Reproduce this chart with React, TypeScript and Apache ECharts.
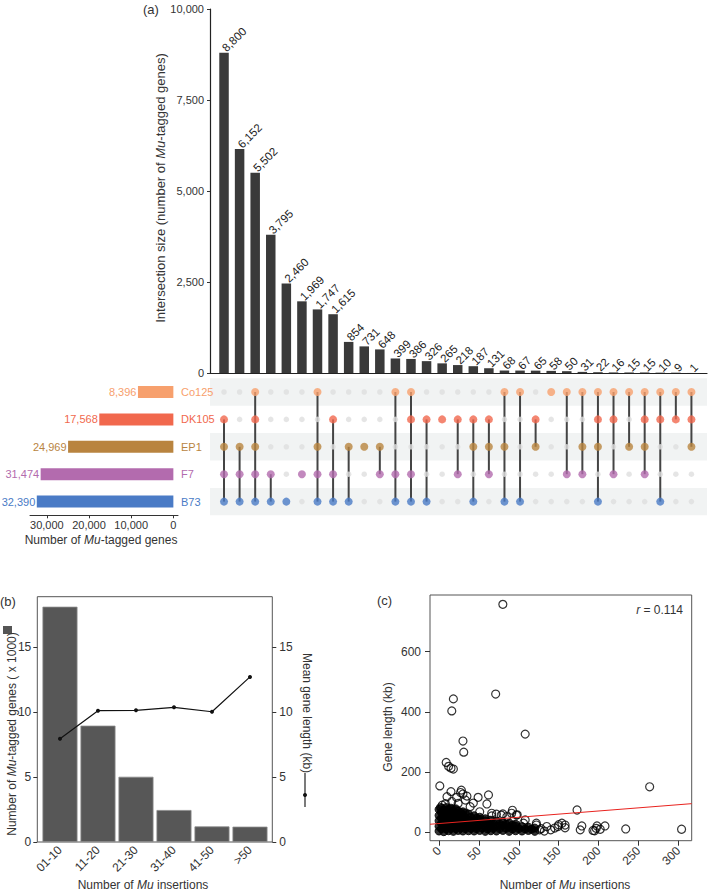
import React, { useEffect, useRef } from 'react';
import * as echarts from 'echarts';

const FONT = '"Liberation Sans", Arial, Helvetica, sans-serif';

// ---------- Panel (a): UpSet plot ----------
const setNames = ['Co125', 'DK105', 'EP1', 'F7', 'B73'];
const setSizes = [8396, 17568, 24969, 31474, 32390];
const setColors = ['#F7A06D', '#F1684D', '#B9843F', '#B36BAE', '#4A7BC6'];
const setSizeTicks = [0, 10000, 20000, 30000];

const intersectionSizes = [8800, 6152, 5502, 3795, 2460, 1969, 1747, 1615, 854, 731, 648, 399, 386, 326, 265, 218, 187, 131, 68, 67, 65, 58, 50, 31, 22, 16, 15, 15, 10, 9, 1];
const intersectionSets = [
  ['DK105', 'EP1', 'F7', 'B73'],
  ['EP1', 'F7', 'B73'],
  ['Co125', 'DK105', 'EP1', 'F7', 'B73'],
  ['F7', 'B73'],
  ['B73'],
  ['F7'],
  ['Co125', 'EP1', 'F7', 'B73'],
  ['DK105', 'F7', 'B73'],
  ['EP1', 'B73'],
  ['EP1'],
  ['EP1', 'F7'],
  ['Co125', 'F7', 'B73'],
  ['Co125', 'DK105', 'F7', 'B73'],
  ['DK105', 'B73'],
  ['DK105'],
  ['DK105', 'F7'],
  ['DK105', 'EP1', 'B73'],
  ['DK105', 'EP1', 'F7'],
  ['Co125', 'EP1', 'B73'],
  ['Co125', 'B73'],
  ['DK105', 'EP1'],
  ['Co125'],
  ['Co125', 'F7'],
  ['Co125', 'EP1', 'F7'],
  ['Co125', 'DK105', 'EP1', 'B73'],
  ['Co125', 'DK105', 'F7'],
  ['Co125', 'EP1'],
  ['Co125', 'DK105', 'EP1', 'F7'],
  ['Co125', 'DK105', 'B73'],
  ['Co125', 'DK105'],
  ['Co125', 'DK105', 'EP1'],
];

// ---------- Panel (b) ----------
const insertionBins = ['01-10', '11-20', '21-30', '31-40', '41-50', '>50'];
const taggedGenesK = [18.1, 8.95, 5.02, 2.46, 1.2, 1.18];
const meanGeneLengthKb = [7.95, 10.1, 10.13, 10.36, 10.02, 12.7];
const bTicks = [0, 5, 10, 15];

// ---------- Panel (c) ----------
const cTicksX = [0, 50, 100, 150, 200, 250, 300];
const cTicksY = [0, 200, 400, 600];
const regressionLine = [[-11.3, 26.6], [316.7, 95]];
const outlierPoints = [
  [80, 757], [71, 459], [18, 443], [16, 403], [108, 326], [30, 303], [31, 266], [9, 232], [12, 219], [15, 213], [18, 210], [1, 154], [264, 151],
  [15, 135], [28, 140], [30, 127], [27, 132], [49, 116], [62, 124], [60, 94], [10, 118], [22, 116], [43, 97], [16, 102], [33, 107], [39, 85], [35, 120],
  [2, 82], [4, 90], [8, 95], [24, 96], [51, 68], [66, 63], [72, 60], [78, 57], [85, 52], [91, 63], [97, 57], [92, 73], [98, 58], [80, 61], [66, 54], [108, 41],
  [106, 30], [122, 30], [122, 24], [135, 19], [149, 19], [154, 30], [158, 24], [158, 15], [150, 25], [128, 12], [140, 8], [145, 14], [126, 8], [132, 4],
  [173, 74], [179, 21], [177, 8], [198, 21], [202, 10], [195, 5], [208, 21], [234, 11], [304, 10], [193, 6], [197, 13],
];
const densePoints = [
  [0, 4], [0, 20], [0, 38], [0, 56], [0, 76], [3, 12], [3, 29], [3, 47], [3, 66], [3, 80],
  [6, 2], [6, 18], [6, 36], [6, 55], [6, 74], [9, 11], [9, 28], [9, 46], [9, 64], [9, 82],
  [12, 5], [12, 22], [12, 40], [12, 58], [12, 76], [15, 13], [15, 30], [15, 48], [15, 66], [15, 80],
  [18, 3], [18, 20], [18, 38], [18, 56], [18, 72], [21, 12], [21, 29], [21, 47], [21, 64], [21, 78],
  [24, 6], [24, 24], [24, 42], [24, 60], [24, 71], [27, 14], [27, 31], [27, 50], [27, 66],
  [30, 4], [30, 21], [30, 39], [30, 57], [30, 68], [33, 12], [33, 30], [33, 48], [33, 63],
  [37, 5], [37, 22], [37, 40], [37, 60], [40, 13], [40, 31], [40, 50],
  [44, 4], [44, 20], [44, 38], [44, 55], [47, 12], [47, 29], [47, 47],
  [51, 6], [51, 24], [51, 42], [51, 50], [54, 14], [54, 32],
  [58, 3], [58, 20], [58, 38], [58, 45], [61, 11], [61, 29],
  [65, 5], [65, 22], [65, 40], [68, 13], [68, 31],
  [72, 4], [72, 20], [72, 37], [76, 12], [76, 28],
  [80, 6], [80, 22], [80, 34], [84, 13], [84, 27],
  [88, 3], [88, 18], [88, 31], [92, 11], [92, 24],
  [96, 5], [96, 20], [96, 27], [100, 12],
  [104, 4], [104, 19], [108, 11],
  [112, 6], [112, 17], [116, 10],
  [120, 3], [120, 14],
];

const fmt = (v: number) => Math.round(v).toLocaleString('en-US');
const richItalicG = (size: number) => ({ i: { fontStyle: 'italic', fontSize: size, fontFamily: FONT, fill: '#333' } });

function txt(text: string, x: number, y: number, o: any = {}) {
  const align = o.align || 'center';
  const size = o.size || 12;
  return {
    type: 'text', x, y, rotation: o.rotation || 0, silent: true, z: 10,
    style: {
      text, fill: o.fill || '#333', fontSize: size, fontFamily: FONT,
      align, textAlign: align, verticalAlign: 'middle', textVerticalAlign: 'middle',
      rich: richItalicG(size),
    },
  };
}

export default function App() {
  const ref = useRef<HTMLDivElement>(null);
  useEffect(() => {
    if (!ref.current) return;
    const chart = echarts.init(ref.current, undefined, { renderer: 'svg' });

    const dots: any[] = [];
    intersectionSets.forEach((sets, i) => {
      setNames.forEach((name, r) => {
        const on = sets.includes(name);
        dots.push({ value: [i, r], symbolSize: on ? 8 : 5.5, itemStyle: { color: on ? setColors[r] : '#DEDEDE' } });
      });
    });
    const links = intersectionSets
      .map((sets, i) => {
        const rows = sets.map((s) => setNames.indexOf(s));
        return [i, Math.min(...rows), Math.max(...rows), rows.length];
      })
      .filter((d) => d[3] > 1)
      .map((d) => [d[0], d[1], d[2]]);

    const axisText = { color: '#333', fontSize: 12, fontFamily: FONT };
    const axisTextA = { color: '#333', fontSize: 11, fontFamily: FONT };

    const option: any = {
      animation: false,
      backgroundColor: '#fff',
      textStyle: { fontFamily: FONT },
      grid: [
        { left: 210, right: 2, top: 9, bottom: 518 },
        { left: 210, right: 2, top: 378.3, height: 137 },
        { left: 30, right: 531, top: 378.3, height: 137 },
        { left: 37.3, right: 436.7, top: 596.7, bottom: 49, show: true, borderColor: '#555', borderWidth: 1, backgroundColor: 'transparent' },
        { left: 430, right: 17.3, top: 595, bottom: 50.3, show: true, borderColor: '#555', borderWidth: 1, backgroundColor: 'transparent' },
      ],
      xAxis: [
        { gridIndex: 0, type: 'value', min: -0.9, max: 31, axisLine: { show: true, onZero: false, lineStyle: { color: '#222', width: 1.2 } }, axisTick: { show: false }, axisLabel: { show: false }, splitLine: { show: false } },
        { gridIndex: 1, type: 'value', min: -0.9, max: 31, show: false, axisLine: { onZero: false }, splitLine: { show: false } },
        {
          gridIndex: 2, type: 'value', inverse: true, min: -1100, max: 34000,
          axisLine: { show: true, onZero: false, lineStyle: { color: '#333', width: 1 } },
          axisTick: { show: true, length: 3, customValues: setSizeTicks, lineStyle: { color: '#333' } },
          axisLabel: { ...axisTextA, margin: 4, customValues: setSizeTicks, formatter: (v: number) => fmt(v) },
          splitLine: { show: false },
        },
        {
          gridIndex: 3, type: 'value', min: -0.597, max: 5.587,
          axisLine: { show: false, onZero: false }, axisTick: { show: false },
          axisLabel: { ...axisText, margin: 6, rotate: 45, customValues: [0, 1, 2, 3, 4, 5], formatter: (v: number) => insertionBins[Math.round(v)] },
          splitLine: { show: false },
        },
        {
          gridIndex: 4, type: 'value', min: -11.3, max: 316.7,
          axisLine: { show: false, onZero: false },
          axisTick: { show: true, length: 5, customValues: cTicksX, lineStyle: { color: '#333' } },
          axisLabel: { ...axisText, margin: 8, rotate: 45, customValues: cTicksX },
          splitLine: { show: false },
        },
      ],
      yAxis: [
        {
          gridIndex: 0, type: 'value', min: 0, max: 10000, interval: 2500,
          axisLine: { show: true, onZero: false, lineStyle: { color: '#222', width: 1.2 } },
          axisTick: { show: true, length: 3, lineStyle: { color: '#333' } },
          axisLabel: { ...axisTextA, margin: 6, formatter: (v: number) => fmt(v) },
          splitLine: { show: false },
        },
        { gridIndex: 1, type: 'value', min: -0.5, max: 4.5, inverse: true, show: false, axisLine: { onZero: false }, splitLine: { show: false } },
        {
          gridIndex: 2, type: 'category', data: setNames, inverse: true, position: 'right', z: 20,
          axisLine: { show: false, onZero: false }, axisTick: { show: false },
          axisLabel: {
            margin: 3, align: 'left',
            formatter: (v: string, idx: number) => `{s${idx}|${v}}`,
            rich: Object.fromEntries(setColors.map((c, k) => [`s${k}`, { color: c, fontSize: 11, fontFamily: FONT }])),
          },
        },
        {
          gridIndex: 3, type: 'value', min: 0, max: 18.87, position: 'left',
          axisLine: { show: false, onZero: false },
          axisTick: { show: true, length: 4, customValues: bTicks, lineStyle: { color: '#333' } },
          axisLabel: { ...axisText, margin: 6, customValues: bTicks },
          splitLine: { show: false },
        },
        {
          gridIndex: 3, type: 'value', min: 0, max: 18.87, position: 'right',
          axisLine: { show: false, onZero: false },
          axisTick: { show: true, length: 4, customValues: bTicks, lineStyle: { color: '#333' } },
          axisLabel: { ...axisText, margin: 7, customValues: bTicks },
          splitLine: { show: false },
        },
        {
          gridIndex: 4, type: 'value', min: -28, max: 788,
          axisLine: { show: false, onZero: false },
          axisTick: { show: true, length: 5, customValues: cTicksY, lineStyle: { color: '#333' } },
          axisLabel: { ...axisText, margin: 9, customValues: cTicksY },
          splitLine: { show: false },
        },
      ],
      series: [
        {
          type: 'bar', xAxisIndex: 0, yAxisIndex: 0, barWidth: 9.5,
          data: intersectionSizes.map((v, i) => [i, v]),
          itemStyle: { color: '#3A3A3A' },
          label: {
            show: true, position: 'top', distance: 3, rotate: 45, align: 'left', verticalAlign: 'middle',
            color: '#222', fontSize: 11.5, fontFamily: FONT,
            formatter: (p: any) => fmt(p.value[1]),
          },
        },
        {
          type: 'scatter', xAxisIndex: 1, yAxisIndex: 1, data: [], z: 0, silent: true,
          markArea: {
            silent: true, itemStyle: { color: '#F1F3F3' },
            data: [0, 2, 4].map((r) => [{ xAxis: -0.9, yAxis: r - 0.5 }, { xAxis: 31, yAxis: r + 0.5 }]),
          },
        },
        {
          type: 'custom', xAxisIndex: 1, yAxisIndex: 1, z: 2, silent: true,
          encode: { x: 0, y: [1, 2] },
          data: links,
          renderItem: (params: any, api: any) => {
            const p1 = api.coord([api.value(0), api.value(1)]);
            const p2 = api.coord([api.value(0), api.value(2)]);
            return { type: 'line', shape: { x1: p1[0], y1: p1[1], x2: p2[0], y2: p2[1] }, style: { stroke: '#444', lineWidth: 2 } };
          },
        },
        { type: 'scatter', xAxisIndex: 1, yAxisIndex: 1, z: 3, data: dots },
        {
          type: 'bar', xAxisIndex: 2, yAxisIndex: 2, barWidth: 12,
          data: setSizes.map((v, k) => ({ value: v, itemStyle: { color: setColors[k] }, label: { color: setColors[k] } })),
          label: { show: true, position: 'left', distance: 1.5, fontSize: 11, fontFamily: FONT, formatter: (p: any) => fmt(p.value) },
        },
        {
          type: 'bar', xAxisIndex: 3, yAxisIndex: 3, barWidth: 35,
          data: taggedGenesK.map((v, i) => [i, v]),
          itemStyle: { color: '#575757', borderColor: '#8A8A8A', borderWidth: 0.8 },
        },
        {
          type: 'line', xAxisIndex: 3, yAxisIndex: 4, z: 5,
          data: meanGeneLengthKb.map((v, i) => [i, v]),
          symbol: 'circle', symbolSize: 4, itemStyle: { color: '#111' }, lineStyle: { color: '#111', width: 1.2 },
        },
        {
          type: 'scatter', xAxisIndex: 4, yAxisIndex: 5, z: 3, symbolSize: 8,
          data: densePoints, itemStyle: { color: '#000', borderColor: '#000', borderWidth: 1 },
        },
        {
          type: 'scatter', xAxisIndex: 4, yAxisIndex: 5, z: 4, symbolSize: 8,
          data: outlierPoints, itemStyle: { color: 'rgba(0,0,0,0)', borderColor: '#000', borderWidth: 1.2 },
        },
        {
          type: 'line', xAxisIndex: 4, yAxisIndex: 5, z: 6, data: regressionLine, symbol: 'none',
          lineStyle: { color: '#E8231F', width: 1 },
        },
      ],
      graphic: [
        txt('(a)', 143, 9, { align: 'left', size: 13 }),
        txt('Intersection size (number of {i|Mu}-tagged genes)', 160, 188, { rotation: Math.PI / 2, size: 13 }),
        txt('Number of {i|Mu}-tagged genes', 101, 540),
        txt('(b)', 0, 601, { align: 'left', size: 13 }),
        txt('Number of {i|Mu}-tagged genes ( x 1000)', 11.5, 734, { rotation: Math.PI / 2 }),
        { type: 'rect', shape: { x: 3, y: 626, width: 9, height: 8 }, style: { fill: '#555' }, silent: true },
        txt('Mean gene length (kb)', 306.5, 713, { rotation: -Math.PI / 2 }),
        { type: 'line', shape: { x1: 305, y1: 773, x2: 305, y2: 807 }, style: { stroke: '#222', lineWidth: 1.2 }, silent: true },
        { type: 'circle', shape: { cx: 305, cy: 795, r: 2 }, style: { fill: '#111' }, silent: true },
        txt('Number of {i|Mu} insertions', 143, 885),
        txt('(c)', 377, 600, { align: 'left', size: 13 }),
        txt('Gene length (kb)', 388, 727, { rotation: Math.PI / 2 }),
        txt('Number of {i|Mu} insertions', 565, 885),
        txt('{i|r} = 0.114', 683, 610, { align: 'right' }),
      ],
    };
    chart.setOption(option);
    return () => chart.dispose();
  }, []);
  return <div ref={ref} style={{ position: 'absolute', left: 0, top: 0, width: 709, height: 891 }} />;
}
